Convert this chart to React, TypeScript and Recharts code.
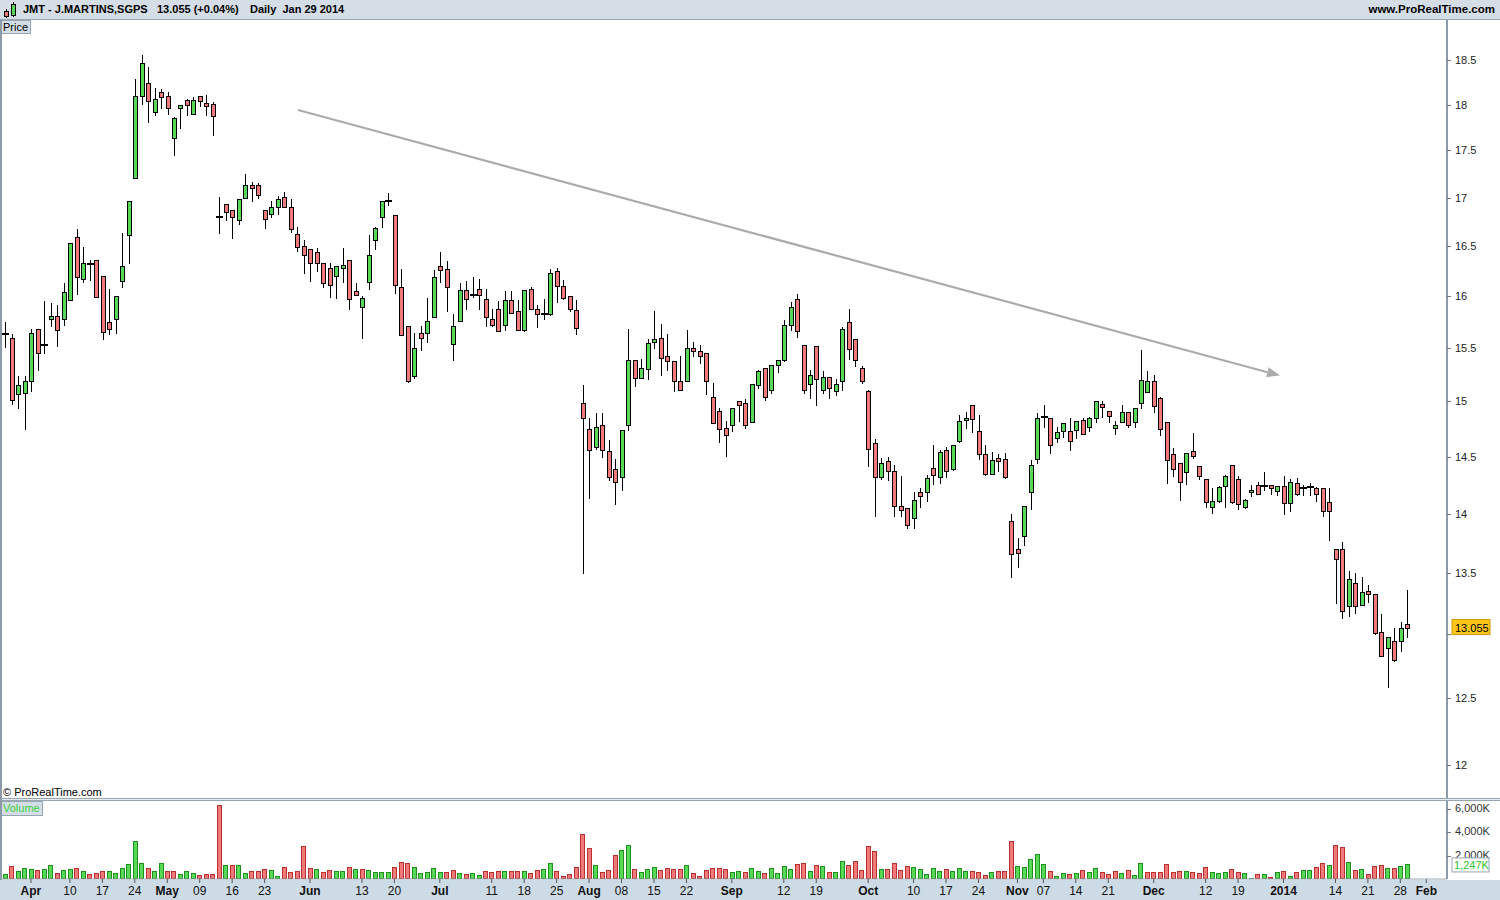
import React from "react";
import { ComposedChart, Bar, XAxis, YAxis, ReferenceLine } from "recharts";

const FONT = '"Liberation Sans", Arial, Helvetica, sans-serif';

// Euronext Lisbon closed days inside the plotted range
const holidays = ["2013-03-29", "2013-04-01", "2013-05-01", "2013-12-25", "2013-12-26", "2014-01-01"];

function tradingDays(start: string, end: string): string[] {
  const out: string[] = [];
  const d = new Date(start + "T00:00:00Z");
  const e = new Date(end + "T00:00:00Z");
  while (d <= e) {
    const wd = d.getUTCDay();
    const s = d.toISOString().slice(0, 10);
    if (wd !== 0 && wd !== 6 && !holidays.includes(s)) out.push(s);
    d.setUTCDate(d.getUTCDate() + 1);
  }
  return out;
}

// axis runs a few sessions past the last candle (Feb label)
const days = tradingDays("2013-03-25", "2014-02-07");

// daily OHLC, 25 Mar 2013 .. 29 Jan 2014
const opens = [
  15.63, 15.6, 15.07, 15.08, 15.19, 15.68, 15.53, 15.78, 15.81, 15.78,
  15.96, 16.59, 16.17, 16.32, 16.36, 16.2, 15.75, 15.78, 16.15, 16.61,
  17.21, 18.1, 18.24, 17.92, 18.14, 18.1, 17.63, 17.96, 18.05, 17.9,
  18.09, 18.02, 18.01, 16.8, 16.93, 16.87, 16.77, 17.0, 17.13, 17.13,
  16.87, 16.83, 16.9, 17.01, 16.9, 16.62, 16.5, 16.47, 16.44, 16.33,
  16.28, 16.2, 16.28, 16.36, 16.05, 15.9, 16.14, 16.56, 16.8, 16.97,
  16.82, 16.09, 15.71, 15.24, 15.64, 15.64, 15.8, 16.3, 16.27, 15.54,
  15.76, 16.06, 16.01, 16.07, 15.97, 15.78, 15.88, 15.72, 15.96, 15.86,
  15.67, 16.07, 15.88, 15.83, 15.83, 16.25, 16.1, 16.0, 15.87, 14.99,
  14.75, 14.59, 14.78, 14.55, 14.39, 14.32, 14.78, 15.39, 15.22, 15.3,
  15.56, 15.6, 15.42, 15.38, 15.19, 15.19, 15.5, 15.47, 15.45, 15.04,
  14.91, 14.76, 14.78, 15.0, 14.99, 14.81, 15.15, 15.31, 15.11, 15.34,
  15.39, 15.72, 15.97, 15.53, 15.16, 15.52, 15.11, 15.23, 15.1, 15.19,
  15.75, 15.59, 15.31, 15.1, 14.62, 14.32, 14.46, 14.37, 14.07, 14.05,
  13.96, 14.19, 14.19, 14.4, 14.32, 14.56, 14.39, 14.64, 14.83, 14.97,
  14.73, 14.52, 14.35, 14.49, 14.48, 13.94, 13.7, 13.81, 14.19, 14.48,
  14.86, 14.85, 14.67, 14.73, 14.73, 14.74, 14.83, 14.77, 14.85, 14.98,
  14.91, 14.76, 14.81, 14.9, 14.81, 14.99, 15.09, 15.19, 15.03, 14.81,
  14.52, 14.44, 14.36, 14.55, 14.42, 14.3, 14.06, 14.11, 14.24, 14.43,
  14.3, 14.06, 14.19, 14.25, 14.24, 14.25, 14.2, 14.24, 14.09, 14.27,
  14.22, 14.23, 14.22, 14.22, 14.1, 13.7, 13.7, 13.23, 13.42, 13.24,
  13.35, 13.33, 13.02, 12.89, 12.95, 12.95, 13.08,
];
const highs = [
  15.75, 15.63, 15.24, 15.24, 15.68, 15.68, 15.95, 15.93, 15.92, 16.13,
  16.53, 16.68, 16.49, 16.36, 16.36, 16.2, 16.07, 16.0, 16.64, 16.96,
  18.28, 18.56, 18.42, 18.18, 18.17, 18.14, 17.86, 18.0, 18.06, 18.08,
  18.09, 18.11, 18.03, 17.01, 16.93, 16.87, 16.99, 17.25, 17.16, 17.15,
  16.87, 16.96, 17.02, 17.06, 16.99, 16.7, 16.56, 16.47, 16.48, 16.33,
  16.33, 16.3, 16.48, 16.36, 16.13, 16.0, 16.61, 16.7, 16.96, 17.05,
  16.82, 16.27, 15.71, 15.64, 15.71, 15.98, 16.26, 16.44, 16.35, 15.83,
  16.13, 16.15, 16.19, 16.17, 16.07, 15.88, 15.95, 16.05, 16.05, 15.96,
  16.06, 16.09, 15.92, 15.97, 16.27, 16.28, 16.16, 16.0, 15.96, 15.15,
  14.85, 14.89, 14.89, 14.65, 14.48, 14.74, 15.68, 15.39, 15.4, 15.59,
  15.86, 15.73, 15.63, 15.38, 15.42, 15.67, 15.56, 15.53, 15.45, 15.17,
  14.94, 14.82, 14.94, 15.0, 15.02, 15.16, 15.29, 15.31, 15.34, 15.39,
  15.77, 15.94, 16.02, 15.53, 15.29, 15.52, 15.28, 15.23, 15.21, 15.7,
  15.88, 15.59, 15.33, 15.11, 14.66, 14.49, 14.5, 14.43, 14.33, 14.05,
  14.19, 14.22, 14.34, 14.6, 14.56, 14.59, 14.6, 14.88, 14.9, 14.97,
  14.88, 14.6, 14.54, 14.52, 14.53, 14.0, 13.79, 14.07, 14.47, 14.89,
  14.97, 14.85, 14.77, 14.8, 14.85, 14.82, 14.85, 14.86, 15.0, 15.0,
  14.91, 14.82, 14.97, 14.9, 14.94, 15.48, 15.28, 15.25, 15.04, 14.81,
  14.58, 14.44, 14.53, 14.71, 14.42, 14.3, 14.22, 14.24, 14.34, 14.43,
  14.33, 14.13, 14.25, 14.28, 14.36, 14.25, 14.24, 14.33, 14.3, 14.31,
  14.25, 14.27, 14.23, 14.22, 14.22, 13.7, 13.76, 13.52, 13.5, 13.47,
  13.4, 13.33, 13.16, 12.98, 13.05, 13.1, 13.36,
];
const lows = [
  15.51, 14.98, 14.94, 14.75, 15.1, 15.29, 15.45, 15.71, 15.52, 15.72,
  15.96, 16.02, 16.14, 16.16, 15.99, 15.59, 15.63, 15.64, 16.09, 16.33,
  17.21, 18.01, 17.81, 17.88, 17.96, 17.9, 17.45, 17.74, 17.88, 17.9,
  17.98, 17.89, 17.67, 16.64, 16.77, 16.58, 16.73, 17.0, 16.96, 17.0,
  16.69, 16.8, 16.83, 16.9, 16.65, 16.45, 16.23, 16.15, 16.25, 16.09,
  15.99, 15.98, 16.14, 15.88, 16.01, 15.6, 16.07, 16.47, 16.7, 16.92,
  16.03, 15.62, 15.18, 15.22, 15.48, 15.56, 15.8, 16.14, 15.86, 15.39,
  15.76, 15.88, 15.99, 15.88, 15.71, 15.71, 15.66, 15.67, 15.84, 15.67,
  15.66, 15.88, 15.7, 15.78, 15.82, 15.94, 15.97, 15.86, 15.63, 13.5,
  14.14, 14.57, 14.5, 14.29, 14.08, 14.21, 14.74, 15.14, 15.22, 15.21,
  15.5, 15.25, 15.29, 15.1, 15.11, 15.19, 15.42, 15.36, 15.07, 14.8,
  14.63, 14.51, 14.73, 14.82, 14.76, 14.81, 15.12, 15.01, 15.08, 15.27,
  15.38, 15.67, 15.61, 15.08, 15.03, 14.97, 15.08, 15.03, 15.06, 15.11,
  15.4, 15.33, 15.17, 14.42, 13.98, 14.3, 14.29, 13.98, 13.98, 13.88,
  13.88, 14.06, 14.11, 14.26, 14.27, 14.32, 14.38, 14.63, 14.76, 14.72,
  14.48, 14.34, 14.35, 14.37, 14.31, 13.47, 13.55, 13.73, 14.04, 14.44,
  14.77, 14.53, 14.63, 14.68, 14.56, 14.67, 14.7, 14.73, 14.81, 14.86,
  14.81, 14.7, 14.81, 14.77, 14.77, 14.94, 15.09, 14.9, 14.69, 14.27,
  14.33, 14.12, 14.26, 14.49, 14.3, 14.06, 14.01, 14.1, 14.06, 14.09,
  14.04, 14.05, 14.15, 14.17, 14.21, 14.17, 14.16, 14.0, 14.02, 14.16,
  14.16, 14.16, 14.11, 13.98, 13.78, 13.25, 13.13, 13.15, 13.17, 13.24,
  13.26, 13.0, 12.83, 12.59, 12.79, 12.87, 12.98,
];
const closes = [
  15.63, 15.01, 15.15, 15.19, 15.64, 15.45, 15.53, 15.81, 15.67, 16.04,
  16.53, 16.19, 16.33, 16.32, 15.99, 15.65, 15.68, 16.0, 16.3, 16.96,
  18.1, 18.47, 18.04, 18.06, 18.08, 17.96, 17.85, 18.0, 18.0, 18.05,
  18.04, 17.98, 17.87, 16.8, 16.85, 16.8, 16.99, 17.13, 17.1, 17.03,
  16.78, 16.9, 16.99, 16.9, 16.68, 16.49, 16.41, 16.33, 16.33, 16.13,
  16.11, 16.3, 16.31, 15.97, 16.01, 15.98, 16.41, 16.69, 16.96, 16.97,
  16.11, 15.62, 15.19, 15.5, 15.6, 15.76, 16.19, 16.26, 16.09, 15.71,
  16.06, 15.97, 16.01, 16.01, 15.8, 15.72, 15.66, 15.96, 15.84, 15.67,
  16.06, 15.88, 15.83, 15.83, 16.23, 16.1, 15.98, 15.88, 15.69, 14.85,
  14.56, 14.77, 14.56, 14.32, 14.28, 14.74, 15.39, 15.22, 15.31, 15.55,
  15.59, 15.41, 15.38, 15.19, 15.11, 15.5, 15.47, 15.42, 15.19, 14.8,
  14.75, 14.69, 14.94, 14.97, 14.78, 15.16, 15.28, 15.04, 15.34, 15.39,
  15.72, 15.9, 15.66, 15.11, 15.25, 15.21, 15.23, 15.12, 15.16, 15.68,
  15.49, 15.39, 15.19, 14.57, 14.32, 14.44, 14.37, 14.07, 14.03, 13.9,
  14.12, 14.15, 14.31, 14.34, 14.54, 14.37, 14.6, 14.82, 14.85, 14.84,
  14.52, 14.35, 14.47, 14.46, 14.32, 13.66, 13.67, 14.07, 14.43, 14.85,
  14.86, 14.6, 14.72, 14.8, 14.64, 14.82, 14.7, 14.85, 15.0, 14.95,
  14.87, 14.78, 14.9, 14.78, 14.94, 15.2, 15.19, 14.96, 14.75, 14.47,
  14.39, 14.28, 14.53, 14.51, 14.33, 14.1, 14.11, 14.23, 14.33, 14.1,
  14.08, 14.12, 14.21, 14.17, 14.24, 14.22, 14.24, 14.09, 14.28, 14.17,
  14.22, 14.23, 14.17, 14.02, 14.02, 13.62, 13.19, 13.45, 13.23, 13.34,
  13.33, 13.01, 12.83, 12.98, 12.8, 13.05, 13.055,
];
// volume, thousands of shares
const volumes = [
  430, 1120, 660, 920, 860, 775, 860, 1205, 515, 775,
  860, 920, 660, 430, 515, 690, 690, 515, 920, 1290,
  3240, 1380, 920, 690, 1380, 690, 690, 430, 690, 515,
  345, 430, 430, 6340, 1205, 1205, 1205, 515, 690, 690,
  860, 775, 260, 1030, 600, 690, 2840, 920, 860, 600,
  775, 690, 690, 1030, 860, 860, 775, 600, 600, 600,
  1030, 1460, 1380, 1030, 515, 600, 920, 600, 600, 775,
  515, 430, 515, 345, 690, 600, 690, 690, 690, 690,
  690, 515, 775, 860, 1380, 690, 260, 430, 1030, 3870,
  2670, 1205, 600, 775, 2070, 2500, 2930, 860, 600, 860,
  1030, 775, 920, 860, 860, 1205, 515, 260, 775, 920,
  920, 860, 600, 690, 600, 920, 690, 515, 920, 515,
  1120, 860, 1290, 1380, 690, 1205, 1120, 600, 600, 1550,
  1205, 1550, 775, 2840, 2410, 860, 860, 1380, 775, 1120,
  1030, 860, 430, 950, 690, 860, 690, 920, 690, 690,
  600, 345, 600, 690, 690, 3270, 1120, 1030, 1720, 2150,
  1290, 690, 260, 515, 460, 515, 750, 600, 920, 600,
  460, 690, 490, 750, 345, 1380, 600, 600, 600, 1290,
  600, 690, 690, 600, 515, 1030, 600, 515, 600, 860,
  600, 515, 60, 430, 430, 170, 600, 690, 260, 600,
  775, 775, 1000, 1380, 1205, 2930, 2750, 1460, 775, 860,
  430, 1120, 1205, 920, 920, 1120, 1247,
];

// x-axis labels
const tickDates = [
  "2013-04-02", "2013-04-10", "2013-04-17", "2013-04-24", "2013-05-02", "2013-05-09", "2013-05-16", "2013-05-23",
  "2013-06-03", "2013-06-13", "2013-06-20", "2013-07-01", "2013-07-11", "2013-07-18", "2013-07-25", "2013-08-01",
  "2013-08-08", "2013-08-15", "2013-08-22", "2013-09-02", "2013-09-12", "2013-09-19", "2013-10-01", "2013-10-10",
  "2013-10-17", "2013-10-24", "2013-11-01", "2013-11-07", "2013-11-14", "2013-11-21", "2013-12-02", "2013-12-12",
  "2013-12-19", "2014-01-02", "2014-01-14", "2014-01-21", "2014-01-28", "2014-02-03",
];
const tickLabels = [
  "Apr", "10", "17", "24", "May", "09", "16", "23",
  "Jun", "13", "20", "Jul", "11", "18", "25", "Aug",
  "08", "15", "22", "Sep", "12", "19", "Oct", "10",
  "17", "24", "Nov", "07", "14", "21", "Dec", "12",
  "19", "2014", "14", "21", "28", "Feb",
];
const boldLabels = ["Apr", "May", "Jun", "Jul", "Aug", "Sep", "Oct", "Nov", "Dec", "2014", "Feb"];

const priceTicks = [12, 12.5, 13, 13.5, 14, 14.5, 15, 15.5, 16, 16.5, 17, 17.5, 18, 18.5];
const volumeTicks = [2000, 4000, 6000];

// hand-drawn trend line, in (session index, price)
const trendLine = [
  { x: 45.15, y: 17.94 },
  { x: 196.46, y: 15.24 },
];

const X_DOMAIN: [number, number] = [-0.77, 222.19];
const PRICE_DOMAIN: [number, number] = [11.75, 18.96];
const VOL_DOMAIN: [number, number] = [0, 6686];

const GREEN = "#57d957";
const RED = "#f07a7a";
const VOL_GREEN_EDGE = "#1f8f1f";
const VOL_RED_EDGE = "#b83030";

const lastClose = closes[closes.length - 1];
const lastVolume = volumes[volumes.length - 1];

const priceData = closes.map((c, i) => ({
  i,
  date: days[i],
  open: opens[i],
  high: highs[i],
  low: lows[i],
  close: c,
  range: [lows[i], highs[i]],
}));

const volumeData = volumes.map((v, i) => ({
  i,
  vol: v,
  up: i === 0 ? closes[0] >= opens[0] : closes[i] >= closes[i - 1],
}));

const tickIndex = tickDates.map((d) => days.indexOf(d));
const labelAt: Record<number, string> = {};
tickIndex.forEach((idx, k) => (labelAt[idx] = tickLabels[k]));

const Candle = (props: any) => {
  const { x, y, width, height, payload } = props;
  if (x == null || y == null || !payload) return null;
  const cx = Math.round(x + width / 2) + 0.5;
  const top = Math.min(y, y + height);
  const bottom = Math.max(y, y + height);
  const lh = Math.log(payload.high);
  const ll = Math.log(payload.low);
  const py = (v: number) => (lh === ll ? top : top + ((bottom - top) * (lh - Math.log(v))) / (lh - ll));
  const yo = py(payload.open);
  const yc = py(payload.close);
  const wick = <line x1={cx} x2={cx} y1={Math.round(top)} y2={Math.round(bottom) + 1} stroke="#000" strokeWidth={1} />;
  if (Math.abs(payload.open - payload.close) < 0.004) {
    return (
      <g>
        {wick}
        <rect x={cx - 3.5} y={Math.round(yo) - 1} width={7} height={2} fill="#000" />
      </g>
    );
  }
  const b1 = Math.round(Math.min(yo, yc)) + 0.5;
  const b2 = Math.round(Math.max(yo, yc)) + 0.5;
  return (
    <g>
      {wick}
      <rect
        x={cx - 2}
        y={b1}
        width={4}
        height={Math.max(b2 - b1, 1)}
        fill={payload.close >= payload.open ? GREEN : RED}
        stroke="#000"
        strokeWidth={1}
      />
    </g>
  );
};

const VolumeBar = (props: any) => {
  const { x, y, width, height, payload } = props;
  if (x == null || y == null || !payload) return null;
  const cx = Math.round(x + width / 2);
  const top = Math.round(y) + 0.5;
  const bottom = Math.round(y + height) - 0.5;
  return (
    <rect
      x={cx - 1.5}
      y={top}
      width={4}
      height={Math.max(bottom - top, 1)}
      fill={payload.up ? GREEN : RED}
      stroke={payload.up ? VOL_GREEN_EDGE : VOL_RED_EDGE}
      strokeWidth={1}
    />
  );
};

const TrendArrow = (props: any) => {
  const { x1, y1, x2, y2 } = props;
  if (x1 == null) return null;
  const a = Math.atan2(y2 - y1, x2 - x1);
  const len = 13;
  const half = 5;
  const bx = x2 - len * Math.cos(a);
  const by = y2 - len * Math.sin(a);
  const pts = [
    [x2, y2],
    [bx + half * Math.sin(a), by - half * Math.cos(a)],
    [bx - half * Math.sin(a), by + half * Math.cos(a)],
  ]
    .map((p) => p.join(","))
    .join(" ");
  return (
    <g>
      <line x1={x1} y1={y1} x2={bx} y2={by} stroke="#ababab" strokeWidth={2.2} />
      <polygon points={pts} fill="#ababab" />
    </g>
  );
};

const PriceTick = (props: any) => {
  const { x, y, payload } = props;
  const v = payload.value;
  const mark = <line x1={x - 8} x2={x - 4} y1={Math.round(y) + 0.5} y2={Math.round(y) + 0.5} stroke="#777" />;
  if (v === lastClose) {
    return (
      <g>
        <rect x={x - 3} y={y - 8} width={38} height={15} fill="#ffc61a" stroke="#d09a00" />
        <text x={x} y={y + 4} fontSize={11} fontFamily={FONT} fill="#000">
          {v.toFixed(3)}
        </text>
      </g>
    );
  }
  // the last-price flag sits over this label in the original, so only the mark shows
  if (Math.abs(v - lastClose) < 0.1) return mark;
  return (
    <g>
      {mark}
      <text x={x} y={y + 4} fontSize={11} fontFamily={FONT} fill="#222">
        {Number.isInteger(v) ? String(v) : v.toFixed(1)}
      </text>
    </g>
  );
};

const VolumeTick = (props: any) => {
  const { x, y, payload } = props;
  const v = payload.value;
  const txt = v.toLocaleString("en-US") + "K";
  if (v === lastVolume) {
    return (
      <g>
        <rect x={x - 3} y={y - 6.5} width={37} height={14} fill="#fff" stroke="#9aa6b0" />
        <text x={x - 1} y={y + 4.5} fontSize={11} fontFamily={FONT} fill="#2fc22f">
          {txt}
        </text>
      </g>
    );
  }
  return (
    <g>
      <line x1={x - 8} x2={x - 4} y1={Math.round(y) + 0.5} y2={Math.round(y) + 0.5} stroke="#777" />
      <text x={x} y={y + 3} fontSize={11} fontFamily={FONT} fill="#333">
        {txt}
      </text>
    </g>
  );
};

const DateTick = (props: any) => {
  const { x, y, payload } = props;
  const label = labelAt[payload.value] ?? "";
  const bold = boldLabels.includes(label);
  return (
    <text
      x={x}
      y={y + 10}
      textAnchor="middle"
      fontSize={12}
      fontFamily={FONT}
      fontWeight={bold ? "bold" : "normal"}
      fill="#111"
    >
      {label}
    </text>
  );
};

const boxLabel: React.CSSProperties = {
  position: "absolute",
  left: 0,
  background: "#d3dde6",
  border: "1px solid #97a5b1",
  boxSizing: "border-box",
  fontSize: 11,
  lineHeight: "12px",
  padding: "0 2px",
};

export default function App() {
  return (
    <div
      style={{
        position: "absolute",
        left: 0,
        top: 0,
        width: 1500,
        height: 900,
        background: "#fff",
        overflow: "hidden",
        fontFamily: FONT,
      }}
    >
      {/* title bar */}
      <div
        style={{
          position: "absolute",
          left: 0,
          top: 0,
          width: 1500,
          height: 20,
          background: "#d5dee6",
          borderBottom: "1px solid #9aa7b2",
          boxSizing: "border-box",
          fontSize: 11,
          fontWeight: "bold",
          color: "#000",
          whiteSpace: "nowrap",
        }}
      >
        <svg width={20} height={20} style={{ position: "absolute", left: 2, top: 0 }}>
          <line x1={4.5} x2={4.5} y1={9} y2={18} stroke="#000" />
          <rect x={2.5} y={11.5} width={4} height={5} fill={RED} stroke="#000" />
          <line x1={11.5} x2={11.5} y1={2} y2={17} stroke="#000" />
          <rect x={9.5} y={4.5} width={4} height={11} fill={GREEN} stroke="#000" />
        </svg>
        <span style={{ position: "absolute", left: 23, top: 3 }}>JMT - J.MARTINS,SGPS</span>
        <span style={{ position: "absolute", left: 157, top: 3 }}>13.055 (+0.04%)</span>
        <span style={{ position: "absolute", left: 250, top: 3 }}>Daily&nbsp; Jan 29 2014</span>
        <span style={{ position: "absolute", right: 5, top: 3, fontSize: 11.5 }}>www.ProRealTime.com</span>
      </div>

      {/* price panel */}
      <div style={{ position: "absolute", left: 0, top: 20 }}>
        <ComposedChart width={1500} height={779} data={priceData} margin={{ top: 0, right: 0, bottom: 0, left: 0 }}>
          <XAxis dataKey="i" type="number" domain={X_DOMAIN} allowDataOverflow hide />
          <YAxis
            orientation="right"
            width={53}
            scale="log"
            domain={PRICE_DOMAIN}
            allowDataOverflow
            ticks={[...priceTicks, lastClose]}
            interval={0}
            tickSize={4}
            tickMargin={4}
            tickLine={false}
            axisLine={{ stroke: "#8d9ba8", strokeWidth: 2 }}
            tick={<PriceTick />}
          />
          <Bar dataKey="range" barSize={5} shape={<Candle />} isAnimationActive={false} />
          <ReferenceLine segment={trendLine} ifOverflow="visible" shape={<TrendArrow />} />
        </ComposedChart>
      </div>
      <div style={{ ...boxLabel, top: 20, height: 14 }}>Price</div>
      <div style={{ position: "absolute", left: 3, top: 786, fontSize: 11, color: "#000" }}>© ProRealTime.com</div>

      {/* separator between panels */}
      <div
        style={{
          position: "absolute",
          left: 0,
          top: 798,
          width: 1500,
          height: 3,
          background: "#e4eaef",
          borderTop: "1px solid #98a6b2",
          borderBottom: "1px solid #98a6b2",
          boxSizing: "border-box",
        }}
      />

      {/* date band */}
      <div style={{ position: "absolute", left: 0, top: 880, width: 1500, height: 20, background: "#cddbe6" }} />

      {/* volume panel */}
      <div style={{ position: "absolute", left: 0, top: 801 }}>
        <ComposedChart width={1500} height={99} data={volumeData} margin={{ top: 0, right: 0, bottom: 0, left: 0 }}>
          <XAxis
            dataKey="i"
            type="number"
            domain={X_DOMAIN}
            allowDataOverflow
            ticks={tickIndex}
            interval={0}
            height={21}
            tickSize={4}
            tickMargin={2}
            tickLine={{ stroke: "#555" }}
            axisLine={{ stroke: "#98a6b2" }}
            tick={<DateTick />}
          />
          <YAxis
            orientation="right"
            width={53}
            domain={VOL_DOMAIN}
            allowDataOverflow
            ticks={[...volumeTicks, lastVolume]}
            interval={0}
            tickSize={4}
            tickMargin={4}
            tickLine={false}
            axisLine={{ stroke: "#8d9ba8", strokeWidth: 2 }}
            tick={<VolumeTick />}
          />
          <Bar dataKey="vol" barSize={4} shape={<VolumeBar />} isAnimationActive={false} />
        </ComposedChart>
      </div>
      <div style={{ ...boxLabel, top: 801, height: 15, color: "#3ccf3c" }}>Volume</div>

      {/* left frame */}
      <div style={{ position: "absolute", left: 0, top: 20, width: 2, height: 860, background: "#8d9ba8" }} />
    </div>
  );
}
